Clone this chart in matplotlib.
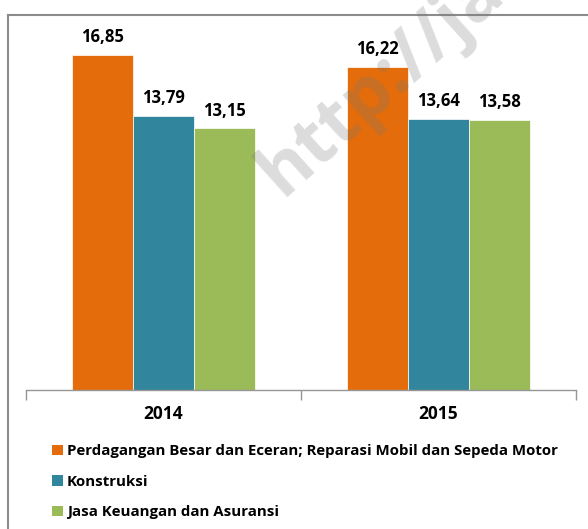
import numpy as np
import matplotlib.pyplot as plt
from matplotlib.lines import Line2D
from matplotlib.patches import Patch

years = ['2014', '2015']
series = ['Perdagangan Besar dan Eceran; Reparasi Mobil dan Sepeda Motor',
          'Konstruksi',
          'Jasa Keuangan dan Asuransi']
values = [[16.85, 16.22],
          [13.79, 13.64],
          [13.15, 13.58]]
labels = [['16,85', '16,22'],
          ['13,79', '13,64'],
          ['13,15', '13,58']]
colors = ['#E46C0A', '#31859C', '#9BBB59']

plt.rcParams['font.family'] = ['Open Sans', 'DejaVu Sans']

fig = plt.figure(figsize=(5.88, 5.29), dpi=100)
ax = fig.add_axes([26/588, 139/529, 550/588, 358/529])

x = np.arange(len(years))
w = 0.222
for i in range(len(series)):
    pos = x + (i - 1) * w
    bars = ax.bar(pos, values[i], width=w, color=colors[i], edgecolor='white', linewidth=0.5)
    for xi, v, lab in zip(pos, values[i], labels[i]):
        ax.text(xi, v + 0.45, lab, ha='center', va='bottom', fontsize=12, fontweight='bold')

ax.set_xlim(-0.5, 1.5)
ax.set_ylim(0, 18)
for s in ['left', 'right', 'top']:
    ax.spines[s].set_visible(False)
ax.spines['bottom'].set_color('#969696')
ax.spines['bottom'].set_linewidth(1.0)
ax.set_yticks([])
ax.set_xticks(x)
ax.set_xticklabels(years, fontsize=12.5, fontweight='bold')
ax.tick_params(axis='x', which='major', length=0, pad=11)
ax.set_xticks([-0.5, 0.5, 1.5], minor=True)
ax.tick_params(axis='x', which='minor', length=7, color='#969696', width=1.0)

handles = [Patch(facecolor=c, edgecolor='none') for c in colors]
fig.legend(handles, series, loc='upper left', bbox_to_anchor=(52/588, 1 - 444/529),
           frameon=False, prop={'weight': 'bold', 'size': 10.8},
           handlelength=0.7, handleheight=0.7, handletextpad=0.3,
           labelspacing=1.1, borderpad=0, borderaxespad=0)

# watermark
fig.text(382/588, 1 - 82/529, 'http://ja', rotation=42, ha='center', va='center',
         fontsize=52, fontweight='bold', color='#787878', alpha=0.26)

# outer frame (left and top edges visible)
fig.add_artist(Line2D([8/588, 8/588], [0, 1 - 15/529], color='#8c8c8c', linewidth=1.5))
fig.add_artist(Line2D([8/588, 1], [1 - 15/529, 1 - 15/529], color='#8c8c8c', linewidth=1.5))

fig.savefig('out.png', dpi=100)
